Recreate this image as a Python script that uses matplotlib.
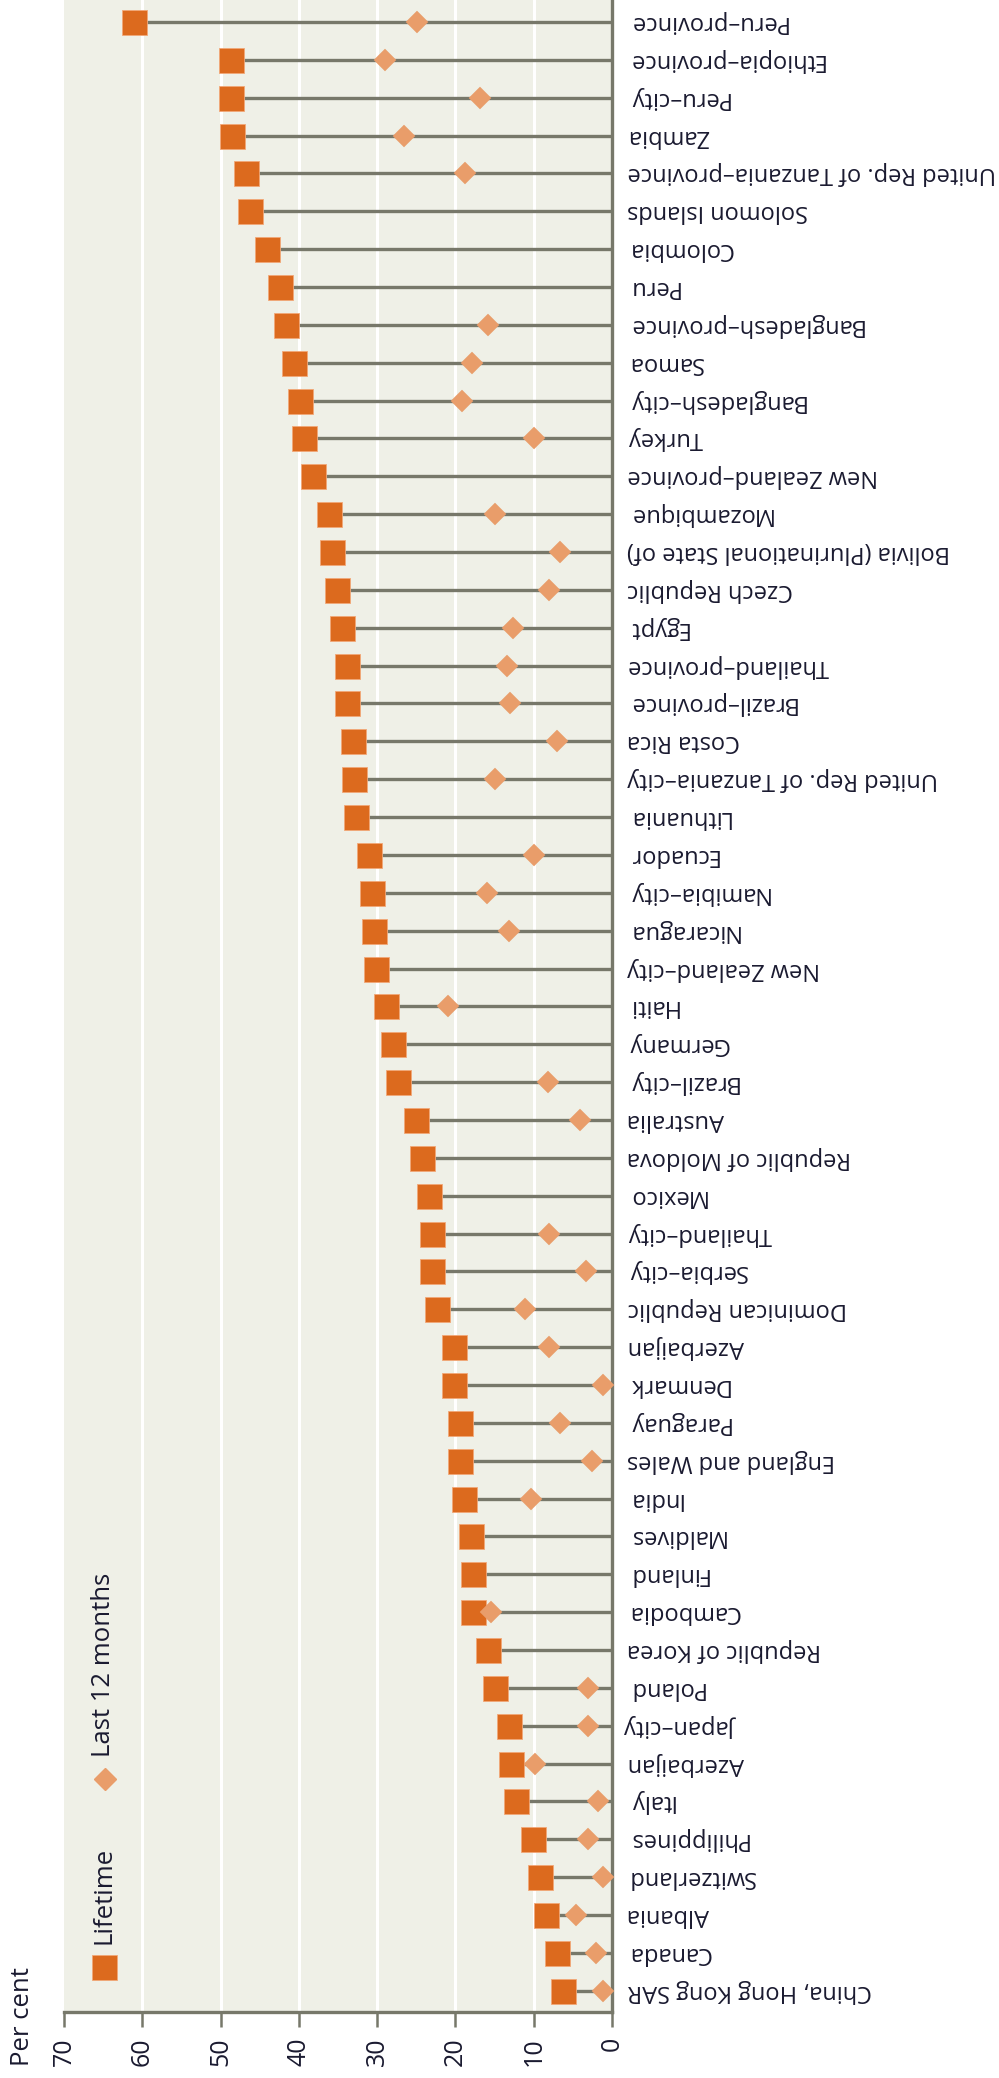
import numpy as np
import matplotlib
matplotlib.use("Agg")
import matplotlib.pyplot as plt
from matplotlib.lines import Line2D

categories = [
    "Peru–province", "Ethiopia–province", "Peru–city", "Zambia",
    "United Rep. of Tanzania–province", "Solomon Islands", "Colombia", "Peru",
    "Bangladesh–province", "Samoa", "Bangladesh–city", "Turkey",
    "New Zealand–province", "Mozambique", "Bolivia (Plurinational State of)",
    "Czech Republic", "Egypt", "Thailand–province", "Brazil–province",
    "Costa Rica", "United Rep. of Tanzania–city", "Lithuania", "Ecuador",
    "Namibia–city", "Nicaragua", "New Zealand–city", "Haiti", "Germany",
    "Brazil–city", "Australia", "Republic of Moldova", "Mexico",
    "Thailand–city", "Serbia–city", "Dominican Republic", "Azerbaijan",
    "Denmark", "Paraguay", "England and Wales", "India", "Maldives",
    "Finland", "Cambodia", "Republic of Korea", "Poland", "Japan–city",
    "Azerbaijan", "Italy", "Philippines", "Switzerland", "Albania", "Canada",
    "China, Hong Kong SAR",
]
lifetime = [
    61.0, 48.7, 48.7, 48.5, 46.8, 46.2, 44.1, 42.4,
    41.7, 40.6, 39.9, 39.4, 38.2, 36.2, 35.8, 35.1,
    34.5, 33.8, 33.8, 33.1, 32.9, 32.7, 31.1, 30.7,
    30.4, 30.1, 28.9, 28.0, 27.3, 25.1, 24.3, 23.4,
    23.0, 23.0, 22.4, 20.2, 20.2, 19.4, 19.4, 18.9,
    18.0, 17.7, 17.7, 15.9, 15.0, 13.1, 12.9, 12.2,
    10.1, 9.2, 8.4, 7.0, 6.2,
]
last12 = [
    24.9, 29.0, 16.9, 26.6, 18.8, None, None, None,
    15.8, 17.9, 19.1, 10.0, None, 15.0, 6.7, 8.0,
    12.6, 13.4, 13.0, 7.0, 15.0, None, 10.0, 16.0,
    13.2, None, 21.0, None, 8.2, 4.1, None, None,
    8.0, 3.3, 11.1, 8.0, 1.1, 6.7, 2.6, 10.4,
    None, None, 15.4, None, 3.1, 3.1, 9.8, 1.8,
    3.1, 1.1, 4.6, 2.0, 1.1,
]
xticks = [70, 60, 50, 40, 30, 20, 10, 0]
legend_labels = ["Lifetime", "Last 12 months"]
axis_title = "Per cent"

BG = "#EFF0E7"
SQ = "#DC6A1E"
DM = "#E99D6A"
STEM = "#77786A"
TXT = "#1a1a30"
FONT = ["Open Sans", "DejaVu Sans"]
plt.rcParams["font.family"] = FONT

W, H = 999, 2078
fig = plt.figure(figsize=(W / 100, H / 100), dpi=100)
L, R, T, B = 64, 612, 0, 2012
ax = fig.add_axes([L / W, 1 - B / H, (R - L) / W, (B - T) / H])
ax.set_facecolor(BG)

n = len(categories)
y = np.arange(n)
life = np.array(lifetime, dtype=float)
l12 = np.array([np.nan if v is None else v for v in last12], dtype=float)

ax.set_xlim(70, 0)
ax.set_ylim(n - 1 + 0.56, -0.58)

for xv in xticks[1:-1]:
    ax.axvline(xv, color="white", lw=2.2, zorder=1)

ax.hlines(y, 0, life, color=STEM, lw=2.4, zorder=2)
ax.plot(life, y, ls="none", marker="s", ms=18, color=SQ,
        mec="#F2A878", mew=0.6, zorder=3)
ax.plot(l12, y, ls="none", marker="D", ms=11.6, color=DM,
        mec=DM, mew=0.3, zorder=4, clip_on=False)

for s in ["top", "left"]:
    ax.spines[s].set_visible(False)
for s in ["bottom", "right"]:
    ax.spines[s].set_color(STEM)
    ax.spines[s].set_linewidth(2.4)

ax.set_xticks(xticks)
ax.set_xticklabels([str(v) for v in xticks], rotation=90, fontsize=18, color=TXT)
ax.tick_params(axis="x", length=11, width=1.8, color=STEM, pad=7)

ax.yaxis.set_ticks_position("right")
ax.set_yticks(y)
ax.set_yticklabels(categories, rotation=180, fontsize=17, color=TXT,
                   ha="left", va="center", rotation_mode="default")
ax.tick_params(axis="y", length=0, pad=11)

# legend drawn manually (rotated), positions in figure pixels from top-left
def fx(px):
    return px / W
def fy(py):
    return 1 - py / H

fig.add_artist(Line2D([fx(103.5)], [fy(1967)], transform=fig.transFigure,
                      marker="s", ms=18, color=SQ, mec="#F2A878", mew=0.6, ls="none"))
fig.text(fx(104), fy(1944), legend_labels[0], rotation=90, ha="center", va="bottom",
         fontsize=18.5, color=TXT)
fig.add_artist(Line2D([fx(105)], [fy(1779)], transform=fig.transFigure,
                      marker="D", ms=11.6, color=DM, ls="none"))
fig.text(fx(104), fy(1757), legend_labels[1], rotation=90, ha="center", va="bottom",
         fontsize=18.5, color=TXT)

fig.text(fx(23), fy(2066), axis_title, rotation=90, ha="center", va="bottom",
         fontsize=18.5, color=TXT)

fig.savefig("out.png", dpi=100, facecolor="white")
